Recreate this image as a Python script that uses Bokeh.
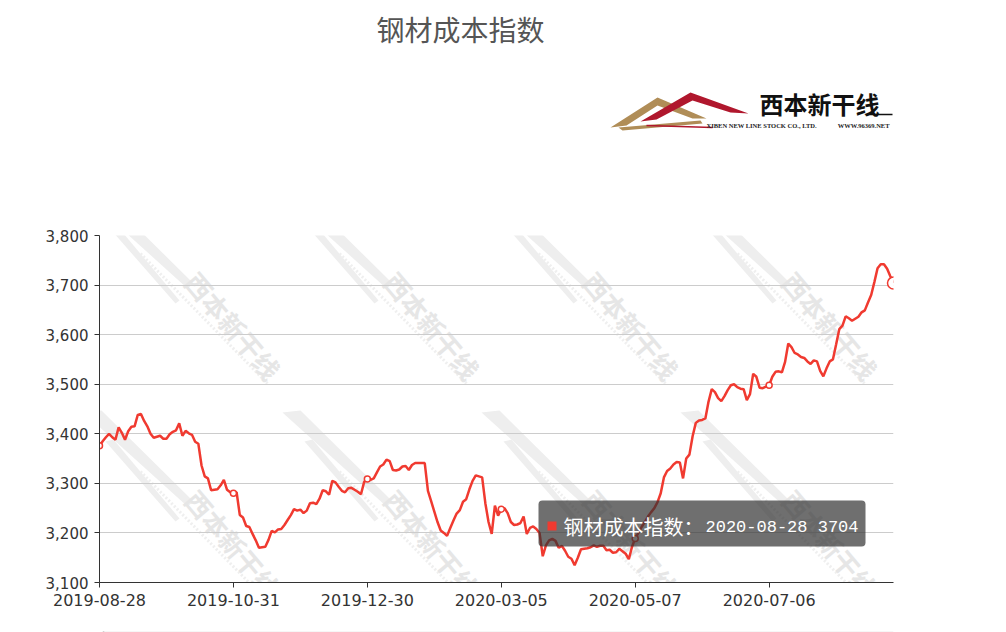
from bokeh.plotting import figure
from bokeh.layouts import column
from bokeh.models import Range1d, FixedTicker, NumeralTickFormatter, BoxAnnotation, Label
from bokeh.core.properties import value
from bokeh.embed import file_html
from bokeh.resources import INLINE

# ---------------- data ----------------
title_text = "钢材成本指数"
series_name = "钢材成本指数"
tick_labels = ["2019-08-28", "2019-10-31", "2019-12-30", "2020-03-05", "2020-05-07", "2020-07-06"]
last_date = "2020-08-28"
label_step = 42
y_ticks = [3100, 3200, 3300, 3400, 3500, 3600, 3700, 3800]
values = [
    3376, 3385, 3393, 3400, 3393, 3388, 3413, 3402, 3388, 3405,
    3414, 3415, 3438, 3440, 3426, 3415, 3400, 3392, 3394, 3396,
    3390, 3390, 3399, 3404, 3407, 3421, 3396, 3406, 3401, 3398,
    3384, 3380, 3336, 3314, 3310, 3286, 3287, 3288, 3296, 3307,
    3287, 3282, 3280,
    3282, 3236, 3231, 3214, 3212, 3198, 3185, 3170, 3171, 3172,
    3186, 3204, 3201, 3207, 3208, 3216, 3226, 3236, 3248, 3245,
    3247, 3240, 3245, 3260, 3261, 3258, 3269, 3286, 3284, 3277,
    3305, 3302, 3293, 3285, 3282, 3290, 3291, 3287, 3283, 3278,
    3303, 3309,
    3307, 3310, 3322, 3334, 3338, 3348, 3345, 3327, 3326, 3328,
    3334, 3335, 3327, 3337, 3341, 3341, 3341, 3341, 3285, 3264,
    3243, 3222, 3205, 3200, 3194, 3210, 3225, 3239, 3246, 3263,
    3268, 3288, 3305, 3316, 3314, 3312, 3260, 3222, 3198, 3255,
    3235, 3248,
    3250, 3240, 3222, 3216, 3217, 3220, 3233, 3198, 3210, 3213,
    3208, 3200, 3153, 3175, 3185, 3188, 3184, 3170, 3174, 3164,
    3152, 3148, 3135, 3150, 3167, 3168, 3169, 3171, 3175, 3172,
    3174, 3174, 3165, 3166, 3160, 3161, 3168, 3163, 3158, 3147,
    3172, 3189,
    3200, 3212, 3222, 3233, 3242, 3250, 3262, 3280, 3312, 3325,
    3330, 3338, 3343, 3342, 3310, 3350, 3358, 3395, 3422, 3427,
    3428, 3431, 3465, 3490, 3484, 3472, 3466, 3476, 3488, 3498,
    3500, 3494, 3491, 3490, 3468, 3480, 3521, 3515, 3493, 3492,
    3495, 3498,
    3515, 3525, 3526, 3524, 3545, 3582, 3575, 3563, 3560, 3555,
    3553, 3546, 3541, 3548, 3546, 3527, 3516, 3532, 3546, 3550,
    3580, 3611, 3618, 3637, 3633, 3628, 3632, 3636, 3645, 3649,
    3665, 3680, 3706, 3734, 3742, 3742, 3733, 3718, 3704,
]

# ---------------- styles / layout ----------------
RED = "#f03a30"
AX = "#333333"
CJK = "Noto Sans CJK SC"
W = 1000
BL, BR = 99, 107            # left / right borders -> frame spans page x 99..893
FX0, FX1 = BL, W - BR
HEAD_H = 225
MAIN_TOP = 10
FRAME_H = 347
MAIN_H = 399
FOOT_H = 8


def bare(h, y0, y1):
    f = figure(width=W, height=h, x_range=Range1d(FX0, FX1), y_range=Range1d(y1, y0),
               x_axis_location=None, y_axis_location=None, output_backend="svg",
               toolbar_location=None, min_border_left=BL, min_border_right=BR,
               min_border_top=0, min_border_bottom=0, outline_line_color=None)
    f.grid.visible = False
    return f


# ---------------- header (title + logo), coordinates = page pixels ----------------
head = bare(HEAD_H, 0, HEAD_H)
head.text(x=[460], y=[28], text=[title_text], text_font=value(CJK), text_font_size="28px",
          text_color="#555555", text_align="center", text_baseline="middle")

gold_xs = [610, 657, 706, 692, 657, 626]
gold_ys = [127, 97, 118, 118, 105, 125]
band_xs = [618, 700, 702, 622]
band_ys = [127, 120, 123, 130]
red_xs = [640, 690, 748, 730, 692, 656]
red_ys = [121, 92, 113, 112, 100, 119]
head.patches(xs=[gold_xs, band_xs, red_xs], ys=[gold_ys, band_ys, red_ys],
             fill_color=["#b08d57", "#b08d57", "#b0172d"], line_color=None)
head.line(x=[646, 712], y=[125, 127], line_color="#b0172d", line_width=1.5)
head.text(x=[819], y=[103], text=["西本新干线"], text_font=value(CJK), text_font_style="bold",
          text_font_size="24px", text_color="#111111", text_align="center", text_baseline="middle")
head.line(x=[866, 892], y=[114, 114], line_color="#111111", line_width=1.5)
head.text(x=[706], y=[125], text=["XIBEN NEW LINE STOCK CO., LTD."], text_font=value("Liberation Serif"),
          text_font_style="bold", text_font_size="6.5px", text_color="#222222",
          text_align="left", text_baseline="middle")
head.text(x=[889], y=[125], text=["WWW.96369.NET"], text_font=value("Liberation Serif"),
          text_font_style="bold", text_font_size="6.5px", text_color="#222222",
          text_align="right", text_baseline="middle")

# ---------------- main chart ----------------
n = len(values)
xs = list(range(n))
p = figure(width=W, height=MAIN_H, x_range=Range1d(0, n - 1), y_range=Range1d(y_ticks[0], y_ticks[-1]),
           output_backend="svg", toolbar_location=None,
           min_border_left=BL, min_border_right=BR, min_border_top=MAIN_TOP,
           min_border_bottom=MAIN_H - MAIN_TOP - FRAME_H, outline_line_color=None)
# pixel-space ranges (page coordinates) for decorations inside the frame
p.extra_x_ranges = {"px": Range1d(FX0, FX1)}
p.extra_y_ranges = {"px": Range1d(HEAD_H + MAIN_TOP + FRAME_H, HEAD_H + MAIN_TOP)}

# watermark tiles
wm_cx, wm_cy, wm_xs, wm_ys, dl_xs, dl_ys = [], [], [], [], [], []
for r in range(2):
    for c in range(4):
        cx, cy = 233 + 199 * c, 325 + 218 * r
        wm_cx.append(cx)
        wm_cy.append(cy)
        wm_xs.append([cx - 150, cx - 132, cx - 40, cx - 46])
        wm_ys.append([cy - 131, cy - 133, cy - 42, cy - 37])
        wm_xs.append([cx - 128, cx - 120, cx - 54, cx - 58])
        wm_ys.append([cy - 102, cy - 104, cy - 25, cy - 22])
        dl_xs.append([cx - 93, cx + 34])
        dl_ys.append([cy - 72, cy + 58])
p.patches(xs=wm_xs, ys=wm_ys, fill_color="#eeeeee", line_color=None,
          x_range_name="px", y_range_name="px", level="image")
p.multi_line(xs=dl_xs, ys=dl_ys, line_color="#efefef", line_width=3, line_dash="2 2",
             x_range_name="px", y_range_name="px", level="image")
p.text(x=wm_cx, y=wm_cy, text=["西本新干线"] * len(wm_cx), angle=-0.87, text_font=value(CJK),
       text_font_style="bold", text_font_size="26px", text_color="#e6e6e6",
       text_align="center", text_baseline="middle",
       x_range_name="px", y_range_name="px", level="image")

# series
p.line(xs, values, line_color=RED, line_width=2.5)
mk = list(range(0, n, label_step))
p.scatter([xs[i] for i in mk], [values[i] for i in mk], size=6, fill_color="white",
          line_color=RED, line_width=1.5)
p.scatter([xs[-1]], [values[-1]], size=12, fill_color="white", line_color=RED, line_width=1.5)

# axes
p.xgrid.visible = False
p.ygrid.grid_line_color = "#cccccc"
p.ygrid.grid_line_width = 1
p.yaxis.ticker = FixedTicker(ticks=y_ticks)
p.yaxis.formatter = NumeralTickFormatter(format="0,0")
p.xaxis.ticker = FixedTicker(ticks=mk)
p.xaxis.major_label_overrides = {i: tick_labels[k] for k, i in enumerate(mk)}
for ax in (p.xaxis, p.yaxis):
    ax.axis_line_color = AX
    ax.axis_line_width = 1
    ax.major_tick_line_color = AX
    ax.major_tick_out = 5
    ax.major_tick_in = 0
    ax.minor_tick_out = 0
    ax.minor_tick_in = 0
    ax.major_label_text_font = "DejaVu Sans"
    ax.major_label_text_color = AX
    ax.major_label_standoff = 6
p.yaxis.major_label_text_font_size = "15px"
p.xaxis.major_label_text_font_size = "16px"

# tooltip
p.add_layout(BoxAnnotation(left=538, right=865, top=500, bottom=546, x_range_name="px", y_range_name="px",
                           fill_color="#323232", fill_alpha=0.7, line_color=None, border_radius=4))
p.add_layout(BoxAnnotation(left=547, right=556, top=521, bottom=530, x_range_name="px", y_range_name="px",
                           fill_color=RED, fill_alpha=1.0, line_color=None))
p.add_layout(Label(x=563, y=526, x_range_name="px", y_range_name="px", text=series_name + "：",
                   text_font=CJK, text_font_size="20px", text_color="white", text_baseline="middle"))
p.add_layout(Label(x=705, y=527, x_range_name="px", y_range_name="px", text=f"{last_date} {values[-1]}",
                   text_font="Liberation Mono", text_font_size="17px", text_color="white",
                   text_baseline="middle"))

# ---------------- footer: top edge of the zoom slider ----------------
top_foot = HEAD_H + MAIN_H
foot = bare(FOOT_H, top_foot, top_foot + FOOT_H)
foot.quad(left=[103], right=[893], top=[627], bottom=[640], fill_color="#eeeeee", line_color=None)
foot.line(x=[103, 103], y=[627, 640], line_color="#aaaaaa", line_width=1.5)

layout = column(head, p, foot, spacing=0)
open("out.html", "w").write(file_html(layout, INLINE))
